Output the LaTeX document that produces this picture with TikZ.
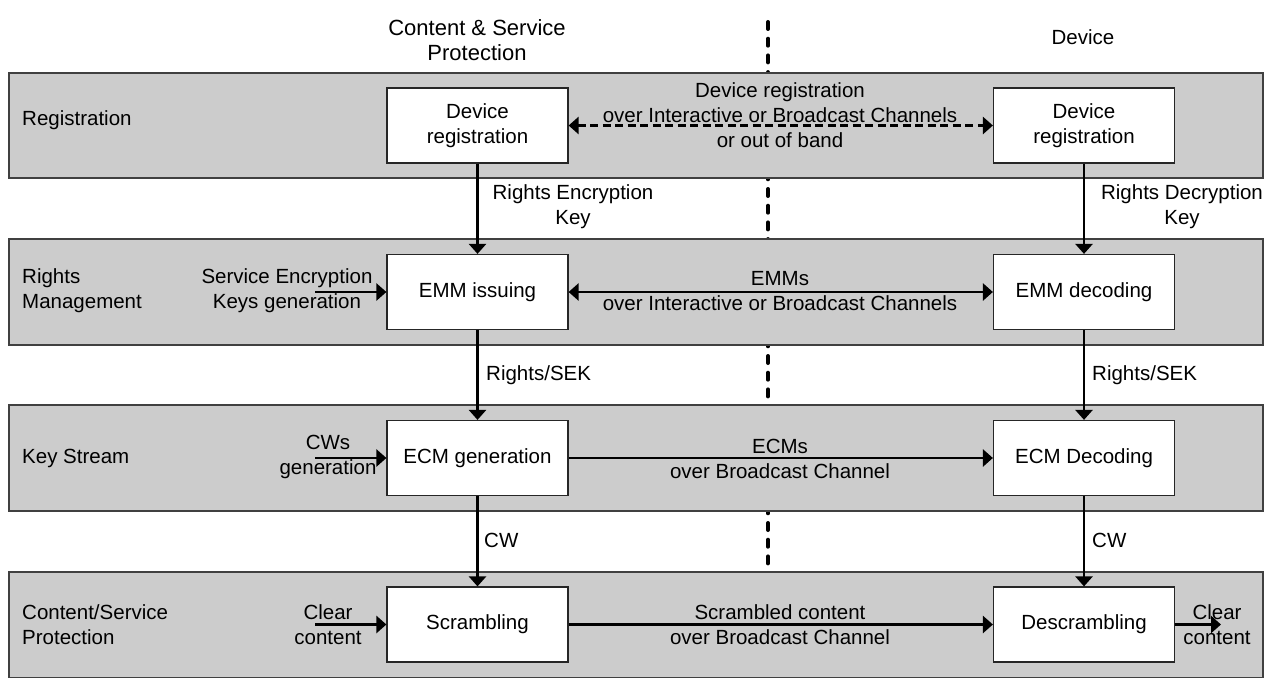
\documentclass[tikz,border=0pt]{standalone}
\usepackage{fontspec}
\setmainfont{Liberation Sans}
\usetikzlibrary{arrows.meta}
\tikzset{
  band/.style={draw=black!75, fill=black!20, line width=1.2pt},
  blk/.style={draw=black!85, fill=white, line width=1.2pt, minimum width=181pt, minimum height=75pt, inner sep=0pt, font=\fontsize{20.5}{25}\selectfont},
  txt/.style={inner sep=0pt, align=center, font=\fontsize{20.5}{25}\selectfont},
  ltxt/.style={inner sep=0pt, align=left, anchor=west, font=\fontsize{20.5}{25}\selectfont},
  arr/.style={line width=2.8pt, -{Triangle[length=10pt,width=17pt]}},
  darr/.style={line width=2.8pt, {Triangle[length=10pt,width=17pt]}-{Triangle[length=10pt,width=17pt]}},
  dashedarr/.style={darr, dash pattern=on 8pt off 4.5pt},
  dotline/.style={line width=4pt, line cap=round, dash pattern=on 7pt off 9.7pt}
}
\begin{document}
\begin{tikzpicture}[x=1pt,y=-1pt]
\useasboundingbox (0,0) rectangle (1268,677);
% divider
\coordinate (dtop) at (768,22);
\coordinate (dbot) at (768,677);
\draw[dotline] (dtop) -- (dbot);
% bands
\draw[band] (9,73) rectangle (1263,178);
\draw[band] (9,239) rectangle (1263,345);
\draw[band] (9,405) rectangle (1263,511);
\draw[band] (9,572) rectangle (1263,677.5);
% titles
\node[txt, font=\fontsize{22}{25}\selectfont] (t1) at (477,40) {Content \& Service\\Protection};
\node[txt] (t2) at (1083,37) {Device};
% band labels
\node[ltxt] (b1) at (22,120) {Registration};
\node[ltxt] (b2) at (22,291) {Rights\\Management};
\node[ltxt] (b3) at (22,458) {Key Stream};
\node[ltxt] (b4) at (22,624.5) {Content/Service\\Protection};
% boxes
\node[blk, align=center] (L1) at (477.5,125.5) {Device\\registration};
\node[blk, align=center] (R1) at (1084,125.5) {Device\\registration};
\node[blk] (L2) at (477.5,292) {EMM issuing};
\node[blk] (R2) at (1084,292) {EMM decoding};
\node[blk] (L3) at (477.5,458) {ECM generation};
\node[blk] (R3) at (1084,458) {ECM Decoding};
\node[blk] (L4) at (477.5,624.5) {Scrambling};
\node[blk] (R4) at (1084,624.5) {Descrambling};
% middle labels
\node[txt] (m1) at (780,115) {Device registration\\over Interactive or Broadcast Channels\\or out of band};
\node[txt] (m2) at (780,291) {EMMs\\over Interactive or Broadcast Channels};
\node[txt] (m3) at (780,459) {ECMs\\over Broadcast Channel};
\node[txt] (m4) at (780,624.5) {Scrambled content\\over Broadcast Channel};
% input labels
\node[txt] (i2) at (287,291) {Service Encryption\\Keys generation};
\node[txt] (i3) at (328,457) {CWs\\generation};
\node[txt] (i4) at (328,624.5) {Clear\\content};
\node[txt] (o4) at (1217,625) {Clear\\content};
% vertical labels
\node[txt] (v1l) at (573,207) {Rights Encryption\\Key};
\node[txt] (v1r) at (1182,207) {Rights Decryption\\Key};
\node[ltxt] (v2l) at (486,375) {Rights/SEK};
\node[ltxt] (v2r) at (1092,375) {Rights/SEK};
\node[ltxt] (v3l) at (484,540) {CW};
\node[ltxt] (v3r) at (1092,540) {CW};
% coordinates for free ends
\coordinate (s2) at (315,292);
\coordinate (s3) at (315,458);
\coordinate (s4) at (315,624.5);
\coordinate (e4) at (1221,624.5);
% connectors
\draw[dashedarr] (L1.east) -- (R1.west);
\draw[darr] (L2.east) -- (R2.west);
\draw[arr] (L3.east) -- (R3.west);
\draw[arr] (L4.east) -- (R4.west);
\draw[arr] (s2) -- (L2.west);
\draw[arr] (s3) -- (L3.west);
\draw[arr] (s4) -- (L4.west);
\draw[arr] (R4.east) -- (e4);
\draw[arr] (L1.south) -- (L2.north);
\draw[arr] (L2.south) -- (L3.north);
\draw[arr] (L3.south) -- (L4.north);
\draw[arr] (R1.south) -- (R2.north);
\draw[arr] (R2.south) -- (R3.north);
\draw[arr] (R3.south) -- (R4.north);
\end{tikzpicture}
\end{document}
